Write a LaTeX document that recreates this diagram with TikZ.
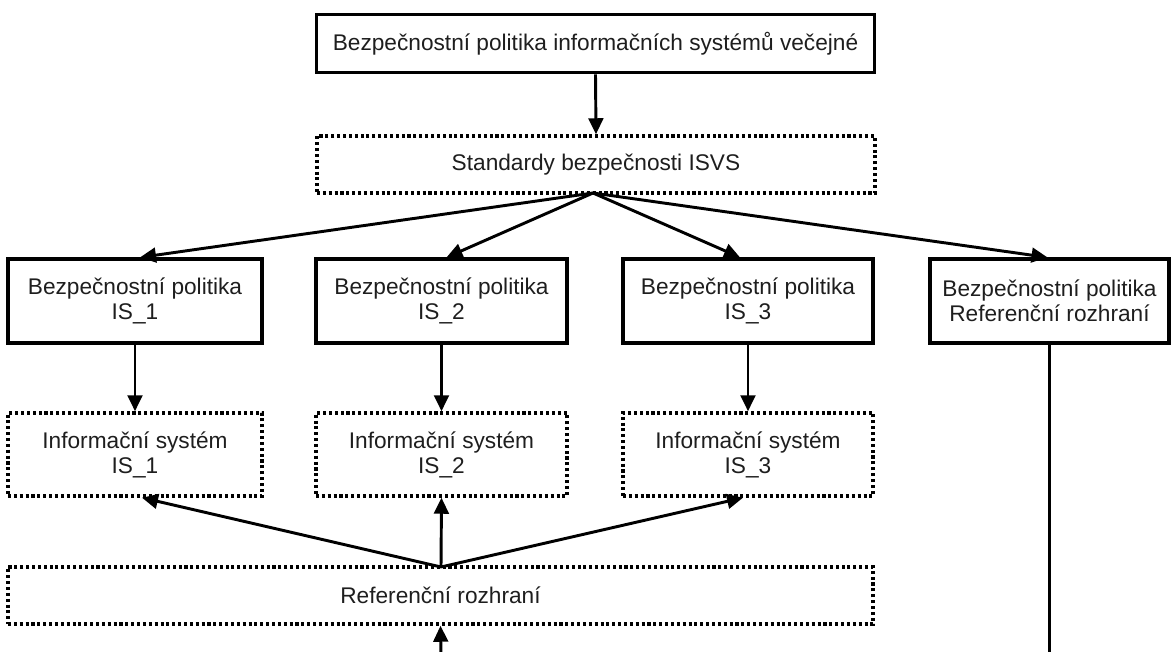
\documentclass[tikz,border=0pt]{standalone}
\usepackage{fontspec}
\setmainfont{Liberation Sans}
\usetikzlibrary{arrows.meta,calc}
\definecolor{inkgray}{HTML}{1E1E1E}
\begin{document}
\begin{tikzpicture}[x=0.75pt,y=-0.75pt,
  every node/.style={inner sep=0pt, align=center, text=inkgray,
    font=\fontsize{17}{18.8}\selectfont},
  solidbox/.style={draw=black, line width=2.4pt, rectangle},
  dotbox/.style={draw=black, line width=2.6pt, rectangle,
    dash pattern=on 2.3pt off 2.1pt},
  flow/.style={draw=black, line width=2.2pt,
    -{Triangle[length=12pt,width=11pt]}},
  plainline/.style={draw=black, line width=2.2pt}]
\useasboundingbox (0,0) rectangle (1171,652);

% top level policy and standards
\node[solidbox, minimum width=419pt, minimum height=44pt] (top) at (595.5,43.5)
  {Bezpečnostní politika informačních systémů večejné};
\node[dotbox, minimum width=418.5pt, minimum height=42.75pt] (std) at (596,164.5)
  {Standardy bezpečnosti ISVS};

% security policies of the individual systems
\node[solidbox, minimum width=190.5pt, minimum height=63pt] (p1) at (135,301)
  {Bezpečnostní politika\\IS\_1};
\node[solidbox, minimum width=188.25pt, minimum height=63pt] (p2) at (441.5,301)
  {Bezpečnostní politika\\IS\_2};
\node[solidbox, minimum width=187.5pt, minimum height=63pt] (p3) at (748,301)
  {Bezpečnostní politika\\IS\_3};
\node[solidbox, minimum width=179.25pt, minimum height=63pt] (p4) at (1049.5,301)
  {Bezpečnostní politika\\Referenční rozhraní};

% information systems
\node[dotbox, minimum width=190.5pt, minimum height=62.25pt] (i1) at (135,454.5)
  {Informační systém\\IS\_1};
\node[dotbox, minimum width=188.25pt, minimum height=62.25pt] (i2) at (441.5,454.5)
  {Informační systém\\IS\_2};
\node[dotbox, minimum width=187.5pt, minimum height=62.25pt] (i3) at (748,454.5)
  {Informační systém\\IS\_3};

% reference interface
\node[dotbox, minimum width=648.75pt, minimum height=42.75pt] (ref) at (440.5,595.5)
  {Referenční rozhraní};

\coordinate (fan) at (593,193);
\coordinate (hub) at (441,567);
\coordinate (low) at (441,655);
\coordinate (p4end) at (1049.5,655);

\draw[flow] (top.south) -- (std.north);
\draw[flow] (fan) -- ($(p1.north)+(5,0)$);
\draw[flow] (fan) -- ($(p2.north)+(5,0)$);
\draw[flow] (fan) -- ($(p3.north)+(-8,0)$);
\draw[flow] (fan) -- ($(p4.north)+(-2,0)$);

\draw[flow] (p1.south) -- (i1.north);
\draw[flow] (p2.south) -- (i2.north);
\draw[flow] (p3.south) -- (i3.north);

\draw[flow] (hub) -- ($(i1.south)+(7,0)$);
\draw[flow] (hub) -- (i2.south);
\draw[flow] (hub) -- ($(i3.south)+(-5,0)$);

\draw[flow] (low) -- (ref.south);
\draw[plainline] (p4.south) -- (p4end);
\end{tikzpicture}
\end{document}
